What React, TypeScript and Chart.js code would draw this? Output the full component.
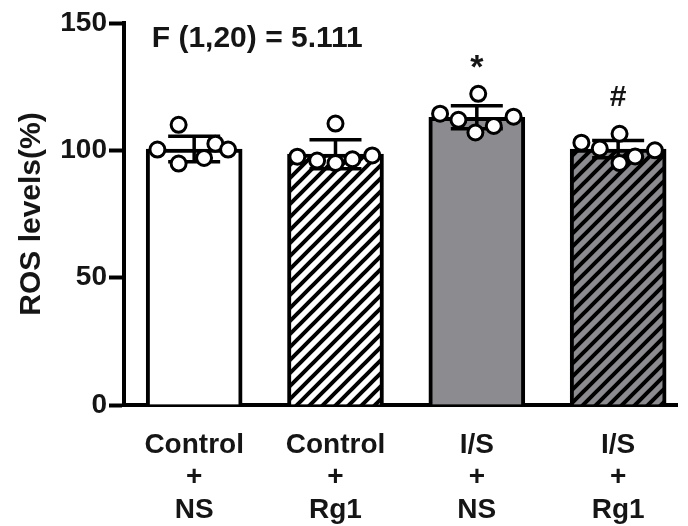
import React, { useEffect, useRef } from 'react';
import { Chart, registerables } from 'chart.js';

Chart.register(...registerables);

// ---- data ----
const groupLabels: string[][] = [
  ['Control', '+', 'NS'],
  ['Control', '+', 'Rg1'],
  ['I/S', '+', 'NS'],
  ['I/S', '+', 'Rg1'],
];
const means = [100.5, 98.5, 113, 100.5];
const sds = [5, 5.7, 4.5, 3.4];
const pointsNS_Ctrl = [110, 100.3, 94.8, 97, 102.6, 100.3];
const pointsRg1_Ctrl = [110.5, 97.5, 96, 95, 96.5, 98];
const pointsNS_IS = [122.2, 114.4, 112, 107, 109.6, 113.2];
const pointsRg1_IS = [103, 106.5, 100.7, 95, 97.6, 100];
const groupPoints = [pointsNS_Ctrl, pointsRg1_Ctrl, pointsNS_IS, pointsRg1_IS];
// horizontal jitter of each dot within its group (category units)
const jitter = [
  [-0.11, -0.26, -0.11, 0.07, 0.15, 0.24],
  [0, -0.27, -0.13, 0, 0.12, 0.26],
  [0.01, -0.26, -0.13, -0.01, 0.12, 0.26],
  [-0.26, 0.01, -0.13, 0.01, 0.12, 0.26],
];
const yTicks = [0, 50, 100, 150];
const yTitle = 'ROS levels(%)';
const statText = 'F (1,20) = 5.111';
const marks = ['', '', '*', '#'];

const FONT = '"Liberation Sans", Arial, Helvetica, sans-serif';
const GRAY = '#8c8c90';
const INK = '#151515';

function hatch(bg: string): CanvasPattern | string {
  const s = 13;
  const c = document.createElement('canvas');
  c.width = s;
  c.height = s;
  const g = c.getContext('2d');
  if (!g) return bg;
  g.fillStyle = bg;
  g.fillRect(0, 0, s, s);
  g.strokeStyle = '#000';
  g.lineWidth = 4;
  g.beginPath();
  g.moveTo(-1, s + 1);
  g.lineTo(s + 1, -1);
  g.moveTo(-s / 2, s / 2);
  g.lineTo(s / 2, -s / 2);
  g.moveTo(s / 2, s * 1.5);
  g.lineTo(s * 1.5, s / 2);
  g.stroke();
  return g.createPattern(c, 'repeat') || bg;
}

const overlay = {
  id: 'overlay',
  afterDatasetDraw(chart: any, args: any) {
    if (args.index !== 0) return;
    const { ctx, scales } = chart;
    const x = scales.x;
    const y = scales.y;
    ctx.save();
    ctx.strokeStyle = '#000';
    ctx.lineWidth = 3.5;
    means.forEach((m, i) => {
      const px = x.getPixelForValue(i);
      const t = y.getPixelForValue(m + sds[i]);
      const b = y.getPixelForValue(m - sds[i]);
      ctx.beginPath();
      ctx.moveTo(px, t);
      ctx.lineTo(px, b);
      ctx.moveTo(px - 26, t);
      ctx.lineTo(px + 26, t);
      ctx.moveTo(px - 26, b);
      ctx.lineTo(px + 26, b);
      ctx.stroke();
    });
    ctx.restore();
  },
  afterDraw(chart: any) {
    const { ctx, scales } = chart;
    const x = scales.x;
    const y = scales.y;
    ctx.save();
    ctx.fillStyle = INK;
    ctx.font = `bold 30px ${FONT}`;
    ctx.textAlign = 'left';
    ctx.textBaseline = 'alphabetic';
    ctx.fillText(statText, x.getPixelForValue(-0.3), y.getPixelForValue(140.5));
    ctx.textAlign = 'center';
    marks.forEach((mk, i) => {
      if (!mk) return;
      const px = x.getPixelForValue(i);
      const t = y.getPixelForValue(means[i] + sds[i]);
      if (mk === '*') {
        ctx.font = `bold 34px ${FONT}`;
        ctx.fillText(mk, px, t - 28);
      } else {
        ctx.font = `bold 30px ${FONT}`;
        ctx.fillText(mk, px, t - 34);
      }
    });
    ctx.restore();
  },
};

export default function App() {
  const ref = useRef<HTMLCanvasElement | null>(null);
  useEffect(() => {
    if (!ref.current) return;
    const fills = ['#ffffff', hatch('#ffffff'), GRAY, hatch(GRAY)];
    const scatterData: { x: number; y: number }[] = [];
    groupPoints.forEach((pts, i) =>
      pts.forEach((v, j) => scatterData.push({ x: i + jitter[i][j], y: v }))
    );
    const chart = new Chart(ref.current, {
      type: 'bar',
      data: {
        datasets: [
          {
            type: 'bar',
            order: 1,
            data: means.map((m, i) => ({ x: i, y: m })),
            backgroundColor: fills as any,
            borderColor: '#000',
            borderWidth: 4,
            barThickness: 96,
          } as any,
          {
            type: 'scatter',
            order: 0,
            data: scatterData,
            pointRadius: 7.5,
            pointHoverRadius: 7.5,
            pointBackgroundColor: '#fff',
            pointBorderColor: '#000',
            pointBorderWidth: 3,
            showLine: false,
          } as any,
        ],
      },
      options: {
        animation: false,
        responsive: false,
        devicePixelRatio: 1,
        layout: { padding: { top: 23, left: 0, right: 0, bottom: 0 } },
        plugins: { legend: { display: false }, tooltip: { enabled: false } },
        scales: {
          x: {
            type: 'linear',
            offset: false,
            min: -0.4965,
            max: 3.42,
            grid: { display: true, offset: false, drawOnChartArea: false, drawTicks: false },
            border: { display: true, color: '#000', width: 4 },
            afterBuildTicks: (scale: any) => {
              scale.ticks = groupLabels.map((_, i) => ({ value: i }));
            },
            afterFit: (scale: any) => {
              scale.height = 121;
            },
            ticks: {
              autoSkip: false,
              maxRotation: 0,
              minRotation: 0,
              padding: 24,
              color: INK,
              font: { family: FONT, size: 28, weight: 'bold', lineHeight: 1.16 },
              callback: (_v: any, i: number) => groupLabels[i],
            },
          },
          y: {
            type: 'linear',
            min: 0,
            max: 150,
            afterBuildTicks: (scale: any) => {
              scale.ticks = yTicks.map((v) => ({ value: v }));
            },
            afterFit: (scale: any) => {
              scale.width = 124;
            },
            grid: {
              display: true,
              drawOnChartArea: false,
              drawTicks: true,
              tickLength: 15,
              tickWidth: 4,
              tickColor: '#000',
              color: '#000',
            },
            border: { display: true, color: '#000', width: 4 },
            ticks: {
              padding: 2,
              color: INK,
              font: { family: FONT, size: 28, weight: 'bold' },
            },
            title: {
              display: true,
              text: yTitle,
              color: INK,
              font: { family: FONT, size: 30, weight: 'bold' },
              padding: { top: 14, bottom: 0 },
            },
          },
        },
      },
      plugins: [overlay],
    });
    return () => chart.destroy();
  }, []);
  return (
    <div style={{ position: 'fixed', left: 0, top: 0, width: 688, height: 526, background: '#fff' }}>
      <canvas ref={ref} width={688} height={526} />
    </div>
  );
}
